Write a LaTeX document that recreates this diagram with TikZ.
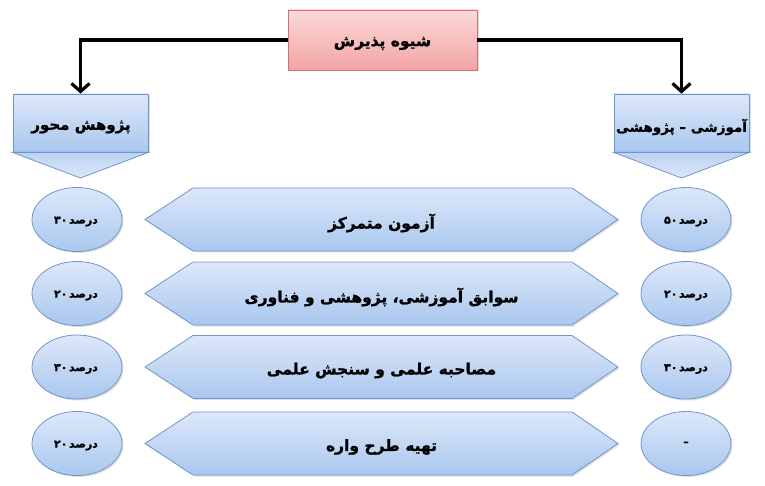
\documentclass[tikz,border=0pt]{standalone}
\usepackage{fontspec}
\TeXXeTstate=1
\newfontfamily\fa[Script=Arabic,BoldFeatures={FakeBold=1.2}]{DejaVu Sans}
\usetikzlibrary{shapes.geometric,arrows.meta,shadows}
\definecolor{bluetop}{HTML}{DDE8F9}
\definecolor{bluebot}{HTML}{A9C7EE}
\definecolor{blueline}{HTML}{6F96CC}
\definecolor{redtop}{HTML}{FCD9D9}
\definecolor{redbot}{HTML}{F2A5A5}
\definecolor{redline}{HTML}{D07272}
\newcommand{\pctxt}[1]{\mbox{#1}\kern1.5pt\mbox{درصد}}
\tikzset{
  shade/.style={drop shadow={opacity=0.25,shadow xshift=1.5pt,shadow yshift=-1.5pt}},
  bluebox/.style={shade,draw=blueline,line width=0.8pt,top color=bluetop,bottom color=bluebot},
  headbox/.style={bluebox,rectangle,minimum width=135pt,minimum height=58pt,inner sep=0pt},
  tri/.style={draw=blueline,line width=0.8pt,top color=bluebot!80,bottom color=bluetop},
  pct/.style={bluebox,ellipse,minimum width=90pt,minimum height=64pt,inner sep=0pt},
  pcttext/.style={inner sep=0pt,font=\fa\bfseries\fontsize{11}{13}\selectfont},
  hexa/.style={bluebox},
  label/.style={font=\fa\bfseries\fontsize{15.5}{18}\selectfont,inner sep=0pt},
  headlabel/.style={font=\fa\bfseries\fontsize{15}{18}\selectfont,inner sep=0pt},
  conn/.style={line width=3.8pt,-{Straight Barb[length=8pt,width=18pt,line width=3.2pt]}}
}
\begin{document}
\begin{tikzpicture}[x=1pt,y=-1pt]
\useasboundingbox (0,0) rectangle (765,486);
% top box
\node[shade,draw=redline,line width=0.8pt,top color=redtop,bottom color=redbot,minimum width=189pt,minimum height=60pt,inner sep=0pt] (top) at (382.5,40) {};
\node[label] (toplbl) at (382.5,43.5) {\beginR شیوه پذیرش\endR};
% header boxes
\node[headbox] (left) at (80.5,123) {};
\node[headbox] (right) at (681.5,123) {};
\node[headlabel] (leftlbl) at (81,127) {\beginR پژوهش محور\endR};
\node[headlabel,font=\fa\bfseries\fontsize{13.5}{16}\selectfont] (rightlbl) at (681.5,127) {\beginR آموزشی – پژوهشی\endR};
\path[tri] (left.south west) -- (left.south east) -- (80.5,178) -- cycle;
\path[tri] (right.south west) -- (right.south east) -- (681.5,178) -- cycle;
% connectors
\draw[conn] (top.west) -| (left.north);
\draw[conn] (top.east) -| (right.north);
% rows
\foreach \y/\txt/\l [count=\i] in {
  219.5/{آزمون متمرکز}/{۳۰},
  293.5/{سوابق آموزشی، پژوهشی و فناوری}/{۲۰},
  367/{مصاحبه علمی و سنجش علمی}/{۳۰},
  443.5/{تهیه طرح واره}/{۲۰}}{
  \path[hexa] (145,\y) -- (193,\y-31.5) -- (572,\y-31.5) -- (618,\y) -- (572,\y+31.5) -- (193,\y+31.5) -- cycle;
  \node[label] (txt\i) at (381.5,\y+3.5) {\beginR\txt\endR};
  \node[pct] (pl\i) at (77,\y) {};
  \node[pcttext] (plt\i) at (76,\y+2) {\pctxt{\l}};
}
\node[pct] (pr1) at (686,219.5) {};
\node[pct] (pr2) at (686,293.5) {};
\node[pct] (pr3) at (686,367) {};
\node[pct] (pr4) at (686,443.5) {};
\node[pcttext] (prt1) at (686,221.5) {\pctxt{۵۰}};
\node[pcttext] (prt2) at (686,295.5) {\pctxt{۲۰}};
\node[pcttext] (prt3) at (686,369) {\pctxt{۳۰}};
\node[pcttext] (prt4) at (686,443.5) {–};
\end{tikzpicture}
\end{document}
